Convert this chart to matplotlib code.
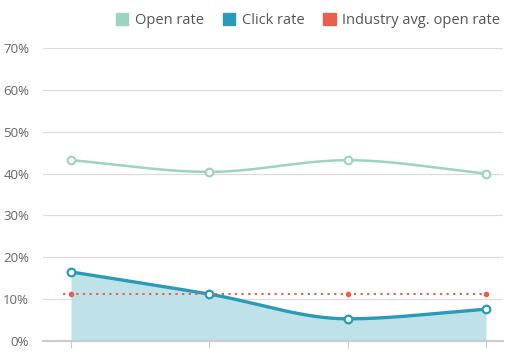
import matplotlib.pyplot as plt
from matplotlib.patches import Patch
import numpy as np

plt.rcParams['font.family'] = ['Open Sans', 'DejaVu Sans']

# data (percent)
points = [0, 1, 2, 3]
open_rate = [43.2, 40.4, 43.2, 40.0]
click_rate = [16.5, 11.2, 5.3, 7.6]
industry_avg = [11.2, 11.2, 11.2, 11.2]
yticks = [0, 10, 20, 30, 40, 50, 60, 70]

c_open = '#9cd3c1'
c_click = '#2b9ab8'
c_fill = '#bfe1e8'
c_ind = '#e8604c'


def monotone(x, y, n=200):
    # monotone cubic (Fritsch-Carlson) for smooth line rendering
    x = np.asarray(x, float)
    y = np.asarray(y, float)
    h = np.diff(x)
    d = np.diff(y) / h
    m = np.zeros_like(y)
    m[0], m[-1] = d[0], d[-1]
    for i in range(1, len(y) - 1):
        if d[i - 1] * d[i] <= 0:
            m[i] = 0
        else:
            m[i] = (h[i - 1] * d[i - 1] + h[i] * d[i]) / (h[i - 1] + h[i])
    xs, ys = [], []
    for i in range(len(h)):
        t = np.linspace(0, 1, n)
        h00 = 2 * t**3 - 3 * t**2 + 1
        h10 = t**3 - 2 * t**2 + t
        h01 = -2 * t**3 + 3 * t**2
        h11 = t**3 - t**2
        xs.append(x[i] + t * h[i])
        ys.append(h00 * y[i] + h10 * h[i] * m[i] + h01 * y[i + 1] + h11 * h[i] * m[i + 1])
    return np.concatenate(xs), np.concatenate(ys)


fig = plt.figure(figsize=(5.09, 3.54), dpi=100)
ax = fig.add_axes([43 / 509, 13 / 354, 460 / 509, 293 / 354])

for v in yticks[1:]:
    ax.axhline(v, color='#dcdcdc', lw=0.9, zorder=0)

xs, ys = monotone(points, click_rate)
ax.fill_between(xs, 0, ys, color=c_fill, lw=0, zorder=1)
ax.plot(xs, ys, color=c_click, lw=2.4, zorder=3)
ax.plot(points, click_rate, 'o', ms=5.5, mfc='white', mec=c_click, mew=1.6, zorder=5)

xs, ys = monotone(points, open_rate)
ax.plot(xs, ys, color=c_open, lw=1.8, zorder=3)
ax.plot(points, open_rate, 'o', ms=5.5, mfc='white', mec=c_open, mew=1.5, zorder=5)

ax.plot([-0.06, 3], industry_avg[:1] + industry_avg[-1:], color=c_ind, lw=1.4,
        ls=(0, (1.2, 2.2)), zorder=4)
ax.plot(points, industry_avg, 'o', ms=3, color=c_ind, zorder=4)

ax.set_xlim(-0.2025, 3.123)
ax.set_ylim(0, 70)
ax.set_yticks(yticks)
ax.set_yticklabels([f'{v}%' for v in yticks])
ax.set_xticks(points)
ax.set_xticklabels([])
for s in ['top', 'right', 'left']:
    ax.spines[s].set_visible(False)
ax.spines['bottom'].set_color('#cccccc')
ax.spines['bottom'].set_linewidth(1.6)
ax.tick_params(axis='y', length=0, pad=10, labelsize=9.5, labelcolor='#666666')
ax.tick_params(axis='x', length=5, color='#cccccc', width=0.8)

handles = [Patch(color=c_open, label='Open rate'),
           Patch(color=c_click, label='Click rate'),
           Patch(color=c_ind, label='Industry avg. open rate')]
fig.legend(handles=handles, loc='upper right', bbox_to_anchor=(1.009, 1.0), ncol=3,
           frameon=False, fontsize=10.5, handlelength=0.85, handleheight=0.85,
           handletextpad=0.45, columnspacing=1.3, labelcolor='#555555')

fig.savefig('out.png', dpi=100)
